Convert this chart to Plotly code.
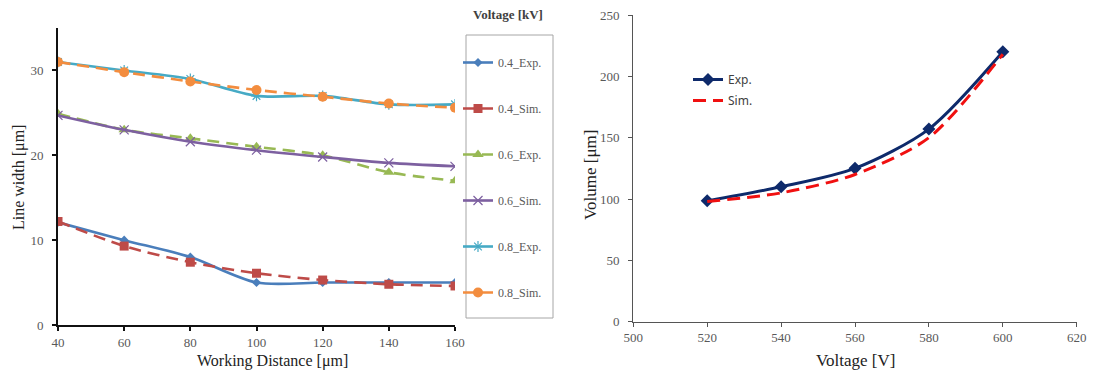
import plotly.graph_objects as go

# ---------------- data ----------------
wd = [40, 60, 80, 100, 120, 140, 160]
exp_04 = [12.1, 10.0, 8.0, 5.0, 5.0, 5.0, 5.0]
sim_04 = [12.2, 9.3, 7.4, 6.1, 5.3, 4.8, 4.6]
exp_06 = [24.9, 23.0, 22.0, 21.0, 20.0, 18.0, 17.0]
sim_06 = [24.7, 23.0, 21.6, 20.6, 19.8, 19.1, 18.7]
exp_08 = [31.0, 30.0, 29.0, 27.0, 27.0, 26.0, 26.0]
sim_08 = [31.0, 29.8, 28.7, 27.7, 26.9, 26.1, 25.6]

voltage = [520, 540, 560, 580, 600]
vol_exp = [98.5, 110, 125, 157, 220]
vol_sim = [98, 105, 120, 150, 218]

left_x_ticks = [40, 60, 80, 100, 120, 140, 160]
left_y_ticks = [0, 10, 20, 30]
right_x_ticks = [500, 520, 540, 560, 580, 600, 620]
right_y_ticks = [0, 50, 100, 150, 200, 250]

SERIF = "Liberation Serif"
SANS = "Noto Sans"
DASH = "12px,7px"

fig = go.Figure()

left_series = [
    ("0.4_Exp.", exp_04, "#4A7EBB", "solid", dict(symbol="diamond", size=7)),
    ("0.4_Sim.", sim_04, "#BE4B48", DASH, dict(symbol="square", size=9)),
    ("0.6_Exp.", exp_06, "#98B954", DASH, dict(symbol="triangle-up", size=10)),
    ("0.6_Sim.", sim_06, "#7D60A0", "solid",
     dict(symbol="x-thin-open", size=9, line=dict(width=1.2, color="#B7A9CC"))),
    ("0.8_Exp.", exp_08, "#46AAC5", "solid",
     dict(symbol="asterisk-open", size=9, line=dict(width=1.2, color="#9FD3E2"))),
    ("0.8_Sim.", sim_08, "#F38D3F", DASH, dict(symbol="circle", size=10)),
]

for name, ys, color, dash, mk in left_series:
    mk = dict(mk)
    mk.setdefault("color", color)
    fig.add_trace(go.Scatter(
        x=wd, y=ys, name=name, mode="lines+markers",
        line=dict(color=color, width=2.6, dash=dash, shape="spline", smoothing=0.8),
        marker=mk, xaxis="x", yaxis="y", legend="legend", legendgroup=name,
    ))

fig.add_trace(go.Scatter(
    x=voltage, y=vol_exp, name="Exp.", mode="lines+markers",
    line=dict(color="#0E2A6B", width=3, shape="spline", smoothing=0.8),
    marker=dict(symbol="diamond", size=10, color="#0E2A6B"),
    xaxis="x2", yaxis="y2", legend="legend2", legendgroup="exp",
))
fig.add_trace(go.Scatter(
    x=voltage, y=vol_sim, name="Sim.", mode="lines",
    line=dict(color="#F01010", width=3, dash="13px,7px", shape="spline", smoothing=0.8),
    xaxis="x2", yaxis="y2", legend="legend2", legendgroup="sim",
))

W, H = 1109, 374
def px_x(p):
    return p / W
def px_y(p):
    return 1 - p / H

tickfont = dict(family=SERIF, size=13, color="#595959")
common_axis = dict(showgrid=False, zeroline=False, showline=True, ticks="outside",
                   ticklen=4, tickfont=tickfont, automargin=False,
                   ticklabeloverflow="allow")

fig.update_layout(
    width=W, height=H,
    margin=dict(l=0, r=0, t=0, b=0, pad=0, autoexpand=False),
    paper_bgcolor="white", plot_bgcolor="white",
    xaxis=dict(domain=[px_x(58), px_x(455)], range=[40, 160], tickvals=left_x_ticks,
               linecolor="#111111", linewidth=2, tickwidth=1.5, tickcolor="#111111",
               anchor="y", **common_axis),
    yaxis=dict(domain=[px_y(325), px_y(28)], range=[0, 35], tickvals=left_y_ticks,
               linecolor="#111111", linewidth=2, tickwidth=1.5, tickcolor="#111111",
               anchor="x", ticklabelstandoff=6, **common_axis),
    xaxis2=dict(domain=[px_x(633.3), px_x(1076.7)], range=[500, 620], tickvals=right_x_ticks,
                linecolor="#555555", linewidth=1.3, tickcolor="#555555",
                anchor="y2", **common_axis),
    yaxis2=dict(domain=[px_y(321.7), px_y(15)], range=[0, 250], tickvals=right_y_ticks,
                linecolor="#555555", linewidth=1.3, tickcolor="#555555",
                anchor="x2", ticklabelstandoff=6, **common_axis),
    legend=dict(x=px_x(458), y=px_y(48), xanchor="left", yanchor="top",
                bgcolor="rgba(0,0,0,0)", borderwidth=0, traceorder="grouped",
                tracegroupgap=27, itemwidth=30,
                font=dict(family=SERIF, size=12, color="#595959")),
    legend2=dict(x=px_x(688), y=px_y(65), xanchor="left", yanchor="top",
                 bgcolor="rgba(0,0,0,0)", borderwidth=0, traceorder="grouped",
                 tracegroupgap=2, itemwidth=30,
                 font=dict(family=SANS, size=12, color="#404040")),
    showlegend=True,
    shapes=[dict(type="rect", xref="paper", yref="paper",
                 x0=px_x(466), x1=px_x(553), y0=px_y(318), y1=px_y(35),
                 line=dict(color="#A6A6A6", width=1))],
    annotations=[
        dict(text="<b>Voltage [kV]</b>", x=px_x(508), y=px_y(14), xref="paper", yref="paper",
             showarrow=False, font=dict(family=SERIF, size=13, color="#404040"),
             xanchor="center", yanchor="middle"),
        dict(text="Line width [μm]", x=px_x(19), y=px_y(178), xref="paper", yref="paper",
             showarrow=False, textangle=-90, font=dict(family=SERIF, size=16, color="#222222"),
             xanchor="center", yanchor="middle"),
        dict(text="Working Distance [μm]", x=px_x(272), y=px_y(361), xref="paper", yref="paper",
             showarrow=False, font=dict(family=SERIF, size=16, color="#222222"),
             xanchor="center", yanchor="middle"),
        dict(text="Volume [μm]", x=px_x(590), y=px_y(175), xref="paper", yref="paper",
             showarrow=False, textangle=-90, font=dict(family=SERIF, size=17, color="#222222"),
             xanchor="center", yanchor="middle"),
        dict(text="Voltage [V]", x=px_x(855), y=px_y(360), xref="paper", yref="paper",
             showarrow=False, font=dict(family=SERIF, size=17, color="#222222"),
             xanchor="center", yanchor="middle"),
    ],
)

# remove the default 8px page margin so the figure fills the window exactly
fig.write_html("out.html", config={"displayModeBar": False},
               post_script="document.body.style.margin='0';")
